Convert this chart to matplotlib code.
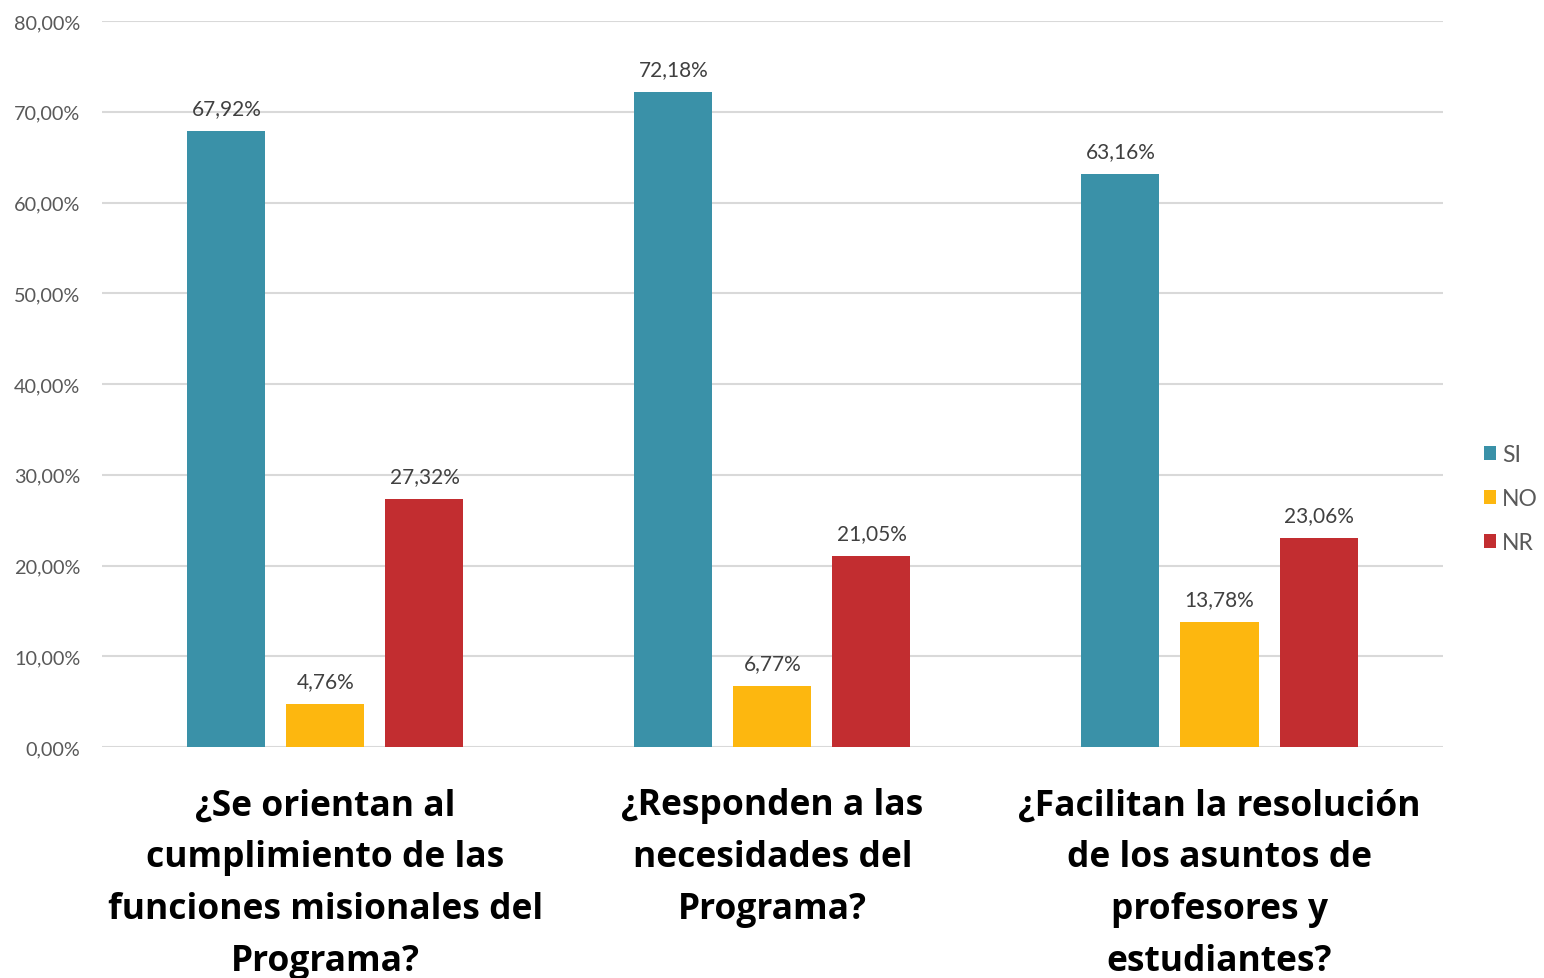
import numpy as np
import matplotlib
matplotlib.use("Agg")
import matplotlib.pyplot as plt

# data
categorias = ["¿Se orientan al\ncumplimiento de las\nfunciones misionales del\nPrograma?",
              "¿Responden a las\nnecesidades del\nPrograma?",
              "¿Facilitan la resolución\nde los asuntos de\nprofesores y\nestudiantes?"]
series = ["SI", "NO", "NR"]
si = [67.92, 72.18, 63.16]
no = [4.76, 6.77, 13.78]
nr = [27.32, 21.05, 23.06]
colores = ["#3A91A8", "#FDB70F", "#C22D30"]

plt.rcParams['font.family'] = ['Lato', 'DejaVu Sans']

fig = plt.figure(figsize=(15.44, 9.79), dpi=100)
ax = fig.add_axes([0.066, 0.2359, 0.8686, 0.7416])

x = np.arange(len(categorias))
ancho = 0.1745
paso = 0.2215
for i, (nombre, vals) in enumerate(zip(series, [si, no, nr])):
    pos = x + (i - 1) * paso
    ax.bar(pos, vals, width=ancho, color=colores[i], label=nombre, zorder=3)
    for p, v in zip(pos, vals):
        ax.text(p, v + 1.4, ("%.2f%%" % v).replace(".", ","), ha="center", va="bottom",
                fontsize=15, color="#404040")

ax.set_xlim(-0.5, 2.5)
ax.set_ylim(0, 80)
ticks = np.arange(0, 81, 10)
ax.set_yticks(ticks)
ax.set_yticklabels([("%.2f%%" % t).replace(".", ",") for t in ticks], fontsize=14.3, color="#595959")
ax.yaxis.grid(True, color="#D9D9D9", linewidth=1.5, zorder=0)
ax.set_axisbelow(True)
for s in ax.spines.values():
    s.set_visible(False)
ax.tick_params(axis="y", length=0, pad=15.5)
ax.tick_params(axis="x", length=0, pad=29)
ax.set_xticks(x)
ax.set_xticklabels(categorias, fontsize=25.5, fontweight="bold", color="black",
                   linespacing=1.59, va="top", family=["Open Sans", "DejaVu Sans"])

fig.legend(loc="center left", bbox_to_anchor=(0.961, 0.49), frameon=False, fontsize=16.5,
           handlelength=0.55, handleheight=0.55, handletextpad=0.25, labelspacing=1.0,
           labelcolor="#595959", borderaxespad=0, borderpad=0)

fig.savefig("out.png", dpi=100)
